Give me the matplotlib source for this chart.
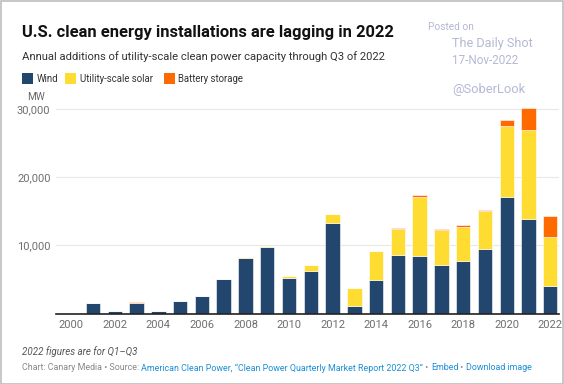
import matplotlib
matplotlib.use("Agg")
from matplotlib import pyplot as plt
from matplotlib.patches import Rectangle
import numpy as np

# %% --------------- DATA ----------------------------------------------------- #
years = list(range(2000, 2023))
wind = [0, 1600, 400, 1600, 300, 1850, 2530, 5000, 8200, 9800, 5170, 6300,
        13220, 1070, 4870, 8640, 8490, 7170, 7660, 9460, 17070, 13850, 4040]
solar = [0, 0, 0, 0, 0, 30, 0, 50, 150, 100, 300, 800,
         1300, 2650, 4350, 3750, 8580, 5070, 5080, 5560, 10450, 13030, 7180]
battery = [0, 0, 0, 60, 0, 0, 0, 0, 0, 0, 0, 0,
           100, 0, 0, 150, 250, 100, 190, 150, 880, 3180, 3030]
y_ticks = [0, 10000, 20000, 30000]
x_ticks = list(range(2000, 2023, 2))

c_wind = "#23466f"
c_solar = "#ffdc32"
c_batt = "#ff6a00"

plt.rcParams["font.family"] = ["Roboto", "DejaVu Sans"]

# %% --------------- FIGURE --------------------------------------------------- #
fig = plt.figure(figsize=(5.64, 3.84), dpi=100)
fig.patch.set_facecolor("white")
fig.add_artist(Rectangle((0.001, 0.001), 0.997, 0.997, transform=fig.transFigure,
                         fill=False, edgecolor="#bdbdbd", linewidth=1.2))

ax = fig.add_axes([56 / 564, 1 - 313.5 / 384, 503 / 564, (313.5 - 104) / 384])

w = np.array(wind)
s = np.array(solar)
b = np.array(battery)
bw = 0.66
ax.bar(years, w, width=bw, color=c_wind, edgecolor="white", linewidth=0.4, zorder=3)
ax.bar(years, s, bottom=w, width=bw, color=c_solar, edgecolor="white", linewidth=0.4, zorder=3)
ax.bar(years, b, bottom=w + s, width=bw, color=c_batt, edgecolor="white", linewidth=0.4, zorder=3)

ax.set_xlim(1999.3, 2022.4)
ax.set_ylim(0, 30700)
ax.set_yticks(y_ticks)
ax.set_yticklabels(["" if v == 0 else f"{v:,}" for v in y_ticks])
ax.set_xticks(x_ticks)
ax.set_xticklabels([str(x) for x in x_ticks])
ax.tick_params(axis="both", length=0, labelsize=8, labelcolor="#6e6e6e")
ax.tick_params(axis="x", pad=5)
ax.tick_params(axis="y", pad=4)
ax.grid(axis="y", color="#e8e8e8", linewidth=0.8, zorder=0)
for sp in ["top", "right", "left"]:
    ax.spines[sp].set_visible(False)
ax.spines["bottom"].set_color("#222222")
ax.spines["bottom"].set_linewidth(1.2)
ax.spines["bottom"].set_zorder(4)

# %% --------------- TEXT ----------------------------------------------------- #
def fy(px):
    return 1 - px / 384

fig.text(22 / 564, fy(32.5), "U.S. clean energy installations are lagging in 2022",
         fontsize=11.9, fontweight="bold", color="#111111", va="center")
fig.text(22 / 564, fy(57), "Annual additions of utility-scale clean power capacity through Q3 of 2022",
         fontsize=8.1, color="#333333", va="center")

# legend: squares at x=22, 65, 164 (px), text 14 px after each square
leg_items = [("Wind", c_wind, 22), ("Utility-scale solar", c_solar, 65), ("Battery storage", c_batt, 164)]
fs = 7.3
probe = fig.text(0, 0, "Utility-scale solar", fontsize=fs)
fig.canvas.draw()
fs = fs * 73 / probe.get_window_extent().width
probe.remove()
for lab, col, lx in leg_items:
    fig.add_artist(Rectangle((lx / 564, fy(84)), 11 / 564, 11 / 384, transform=fig.transFigure,
                             facecolor=col, edgecolor="none"))
    fig.text((lx + 14.5) / 564, fy(78.5), lab, fontsize=fs, color="#333333", va="center")

fig.text(36.5 / 564, fy(97), "MW", fontsize=7.2, color="#666666", va="center", ha="center")

fig.text(22 / 564, fy(352), "2022 figures are for Q1\u2013Q3", fontsize=7.0,
         color="#555555", style="italic", va="center")

parts = [("Chart: Canary Media \u2022 Source: ", "#888888"),
         ("American Clean Power, \u201cClean Power Quarterly Market Report 2022 Q3\u201d", "#1b8fd6"),
         (" \u2022 ", "#888888"), ("Embed", "#1b8fd6"), (" \u2022 ", "#888888"),
         ("Download image", "#1b8fd6")]
sx = 22
for txt, col in parts:
    t = fig.text(sx / 564, fy(368), txt, fontsize=6.4, color=col, va="center")
    fig.canvas.draw()
    sx = t.get_window_extent().x1

wm = "#b4b8d4"
fig.text(428 / 564, fy(27), "Posted on", fontsize=7.3, color=wm, va="center")
fig.text(452 / 564, fy(43), "The Daily Shot", fontsize=9.1, color=wm, va="center")
fig.text(452 / 564, fy(61), "17-Nov-2022", fontsize=8.4, color=wm, va="center")
fig.text(452 / 564, fy(89), "@SoberLook", fontsize=9.3, color=wm, va="center")

fig.savefig("out.png", dpi=100)
